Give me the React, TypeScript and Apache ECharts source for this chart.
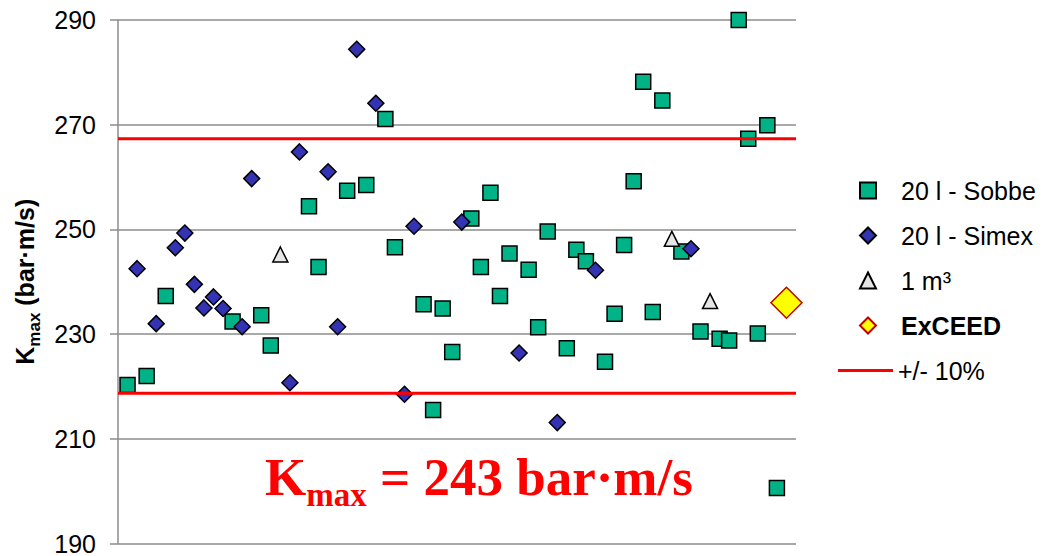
import React, { useEffect, useRef } from 'react';
import * as echarts from 'echarts';

// Kmax values (bar·m/s) in test order 1..70
const kmaxValues = [
  220.3, 242.5, 222.0, 232.0, 237.3, 246.5, 249.3, 239.5, 235.0, 237.1,
  234.9, 232.4, 231.4, 259.7, 233.6, 227.8, 245.2, 220.7, 264.8, 254.4,
  242.8, 261.0, 231.4, 257.4, 284.4, 258.5, 274.1, 271.1, 246.6, 218.5,
  250.6, 235.7, 215.5, 234.9, 226.6, 251.4, 252.1, 242.8, 257.0, 237.3,
  245.4, 226.4, 242.3, 231.3, 249.6, 213.1, 227.3, 246.1, 243.9, 242.2,
  224.7, 233.9, 247.0, 259.2, 278.2, 234.2, 274.6, 248.2, 245.8, 246.3,
  230.5, 236.3, 229.1, 228.8, 290.0, 267.3, 230.1, 269.9, 200.6, 236.0,
];
// S = 20 l - Sobbe, X = 20 l - Simex, T = 1 m³, E = ExCEED
const groupCodes = [
  'S', 'X', 'S', 'X', 'S', 'X', 'X', 'X', 'X', 'X',
  'X', 'S', 'X', 'X', 'S', 'S', 'T', 'X', 'X', 'S',
  'S', 'X', 'X', 'S', 'X', 'S', 'X', 'S', 'S', 'X',
  'X', 'S', 'S', 'S', 'S', 'X', 'S', 'S', 'S', 'S',
  'S', 'X', 'S', 'S', 'S', 'X', 'S', 'S', 'S', 'X',
  'S', 'S', 'S', 'S', 'S', 'S', 'S', 'T', 'S', 'X',
  'S', 'T', 'S', 'S', 'S', 'S', 'S', 'S', 'S', 'E',
];
const groupNames = ['20 l - Sobbe', '20 l - Simex', '1 m³', 'ExCEED'];
const groupKeys = ['S', 'X', 'T', 'E'];
const bandName = '+/- 10%';
const bandValues = [218.7, 267.3];
const yTicks = [190, 210, 230, 250, 270, 290];
const xRange = [0, 71];

const FONT = '"Liberation Sans", Arial, sans-serif';
const SERIF = '"Liberation Serif", "Times New Roman", serif';

function pointsFor(key: string) {
  const out: number[][] = [];
  kmaxValues.forEach((v, i) => {
    if (groupCodes[i] === key) out.push([i + 1, v]);
  });
  return out;
}

export default function App() {
  const ref = useRef<HTMLDivElement>(null);
  useEffect(() => {
    if (!ref.current) return;
    const chart = echarts.init(ref.current, undefined, { renderer: 'svg' });
    const styles: Record<string, any> = {
      S: { symbol: 'rect', symbolSize: 15, itemStyle: { color: '#00B386', borderColor: '#000', borderWidth: 1.5, opacity: 1 } },
      X: { symbol: 'diamond', symbolSize: 16, itemStyle: { color: '#3333B3', borderColor: '#000', borderWidth: 1.5, opacity: 1 } },
      T: { symbol: 'triangle', symbolSize: 15, itemStyle: { color: '#E6E6E6', borderColor: '#000', borderWidth: 1.5, opacity: 1 } },
      E: { symbol: 'diamond', symbolSize: 31, itemStyle: { color: '#FFFF00', borderColor: '#C00000', borderWidth: 1.5, opacity: 1 } },
    };
    const bandSeries = bandValues.map((v) => ({
      name: bandName,
      type: 'line',
      symbol: 'none',
      silent: true,
      data: [[xRange[0], v], [xRange[1], v]],
      lineStyle: { color: '#FF0000', width: 3 },
      itemStyle: { color: '#FF0000' },
    }));
    const scatterSeries = groupKeys.map((k, gi) => ({
      name: groupNames[gi],
      type: 'scatter',
      data: pointsFor(k),
      ...styles[k],
    }));
    const legendText = {
      fontFamily: FONT,
      fontSize: 25,
      color: '#000',
      rich: { b: { fontFamily: FONT, fontSize: 25, fontWeight: 'bold', color: '#000' } },
    };
    chart.setOption({
      animation: false,
      grid: { left: 118, right: 248, top: 20, bottom: 12 },
      xAxis: { type: 'value', min: xRange[0], max: xRange[1], show: false },
      yAxis: {
        type: 'value',
        min: yTicks[0],
        max: yTicks[yTicks.length - 1],
        interval: yTicks[1] - yTicks[0],
        name: '{k|K}{s|max}{k| (bar·m/s)}',
        nameLocation: 'middle',
        nameGap: 66,
        nameTextStyle: {
          rich: {
            k: { fontFamily: FONT, fontWeight: 'bold', fontSize: 25, color: '#000', verticalAlign: 'top', lineHeight: 28 },
            s: { fontFamily: FONT, fontWeight: 'bold', fontSize: 17, color: '#000', verticalAlign: 'top', lineHeight: 17, padding: [14, 0, 0, 0] },
          },
        },
        axisLine: { show: true, lineStyle: { color: '#8C8C8C', width: 1.5 } },
        axisTick: { show: true, inside: false, length: 8, lineStyle: { color: '#8C8C8C', width: 1.5 } },
        splitLine: { show: true, lineStyle: { color: '#8C8C8C', width: 1.5 } },
        axisLabel: { color: '#000', fontFamily: FONT, fontSize: 25, margin: 22 },
      },
      legend: [
        {
          orient: 'vertical',
          left: 854,
          top: 173,
          itemWidth: 16,
          itemHeight: 16,
          itemGap: 20,
          data: groupNames,
          formatter: (name: string) => (name === 'ExCEED' ? '{b|ExCEED}' : name),
          textStyle: { ...legendText, padding: [0, 0, 0, 20] },
        },
        {
          orient: 'vertical',
          left: 833,
          top: 353,
          itemWidth: 55,
          itemHeight: 3,
          icon: 'rect',
          data: [bandName],
          textStyle: legendText,
        },
      ],
      graphic: [
        {
          type: 'text',
          x: 265,
          y: 450,
          style: {
            text: '{k|K}{s|max}{k| = 243 bar·m/s}',
            rich: {
              k: { fontFamily: SERIF, fontWeight: 'bold', fontSize: 53, fill: '#FF0000', verticalAlign: 'top', lineHeight: 53 },
              s: { fontFamily: SERIF, fontWeight: 'bold', fontSize: 33, fill: '#FF0000', verticalAlign: 'top', lineHeight: 33, padding: [28, 0, 0, 0] },
            },
          },
        },
      ],
      series: [...bandSeries, ...scatterSeries],
    });
    return () => chart.dispose();
  }, []);
  return (
    <div
      ref={ref}
      style={{ position: 'fixed', left: 0, top: 0, width: 1044, height: 556, background: '#fff' }}
    />
  );
}
